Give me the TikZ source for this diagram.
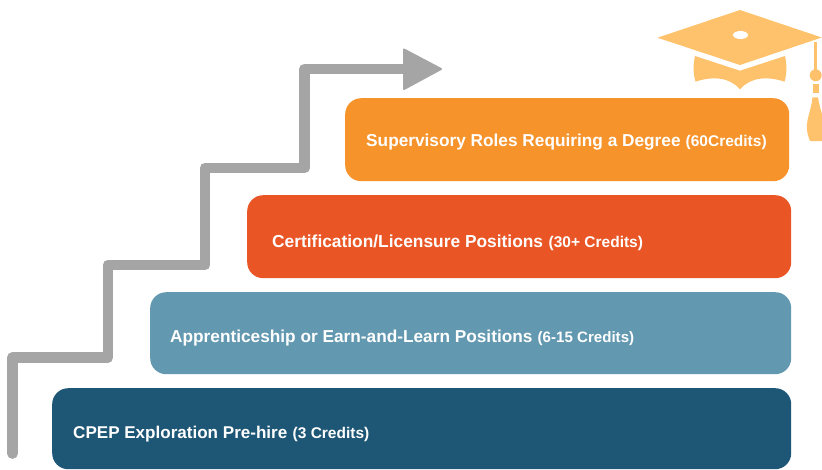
\documentclass[tikz,border=0pt]{standalone}
\usepackage{fontspec}
\setmainfont{Liberation Sans}
\definecolor{hatc}{HTML}{FFC26C}
\definecolor{orangec}{HTML}{F6932B}
\definecolor{redc}{HTML}{E95525}
\definecolor{bluec}{HTML}{6298B0}
\definecolor{darkc}{HTML}{1E5676}
\definecolor{grayc}{HTML}{A5A5A5}
\tikzset{
  stepbox/.style={rounded corners=16pt,inner sep=0pt,anchor=north west},
  steptitle/.style={inner sep=0pt,text=white,anchor=base west,font=\bfseries\fontsize{17.25}{20}\selectfont},
  stepcredits/.style={inner sep=0pt,text=white,anchor=base west,font=\bfseries\fontsize{15.5}{20}\selectfont},
  stair/.style={draw=grayc,line width=10.8pt,line join=round,line cap=round},
}
\begin{document}
\begin{tikzpicture}[x=1pt,y=-1pt]
\useasboundingbox (0,0) rectangle (822,469);
% boxes
\node[stepbox,fill=orangec,minimum width=444pt,minimum height=83pt] (b4) at (345,98) {};
\node[stepbox,fill=redc,minimum width=544pt,minimum height=83pt] (b3) at (247,195) {};
\node[stepbox,fill=bluec,minimum width=641pt,minimum height=82pt] (b2) at (150,292) {};
\node[stepbox,fill=darkc,minimum width=739pt,minimum height=81pt] (b1) at (52,388) {};
% labels
\node[steptitle] (t4) at (366,146) {Supervisory Roles Requiring a Degree};
\node[stepcredits] (c4) at (685.5,146) {(60Credits)};
\node[steptitle,font=\bfseries\fontsize{17.35}{20}\selectfont] (t3) at (272,247) {Certification/Licensure Positions};
\node[stepcredits] (c3) at (548.5,247) {(30+ Credits)};
\node[steptitle] (t2) at (170,342) {Apprenticeship or Earn-and-Learn Positions};
\node[stepcredits,font=\bfseries\fontsize{15.1}{20}\selectfont] (c2) at (537.5,342) {(6-15 Credits)};
\node[steptitle,font=\bfseries\fontsize{17.05}{20}\selectfont] (t1) at (73,438) {CPEP Exploration Pre-hire};
\node[stepcredits] (c1) at (292.5,438) {(3 Credits)};
% stairs
\coordinate (s0) at (12.5,453.5);
\coordinate (s1) at (12.5,357.5);
\coordinate (s2) at (108,357.5);
\coordinate (s3) at (108,265);
\coordinate (s4) at (205,265);
\coordinate (s5) at (205,168);
\coordinate (s6) at (304.5,168);
\coordinate (s7) at (304.5,69);
\coordinate (s8) at (410,69);
\draw[stair] (s0)--(s1)--(s2)--(s3)--(s4)--(s5)--(s6)--(s7)--(s8);
\fill[grayc,draw=grayc,line width=2pt,line join=round] (404,49.5)--(441,69)--(404,89)--cycle;
% hat
\fill[hatc] (657.5,37.7)--(740,10)--(821.7,37.5)--(740,65)--cycle;
\fill[white] (740.5,35) ellipse[x radius=7.5pt,y radius=4pt];
\fill[hatc] (695,56)--(740,70.7)--(785,56)
  .. controls (787,65) and (787,73) .. (784.5,81.7)
  .. controls (768,76) and (750,77) .. (740,89.5)
  .. controls (730,77) and (712,76) .. (695.5,81.7)
  .. controls (693,73) and (693,65) .. (695,56)--cycle;
\fill[hatc] (814,42) rectangle (817,71);
\fill[hatc] (815.7,75.3) circle[radius=6pt];
\fill[hatc] (813,83.5) rectangle (819,92.7);
\fill[hatc] (812.5,97.3)--(818,97.3)
  .. controls (820,110) and (824,118) .. (824,125)--(824,141)--(810,141)
  .. controls (807.5,135) and (806.5,130) .. (807,124)
  .. controls (808,115) and (811.5,108) .. (812.5,97.3)--cycle;
\end{tikzpicture}
\end{document}
